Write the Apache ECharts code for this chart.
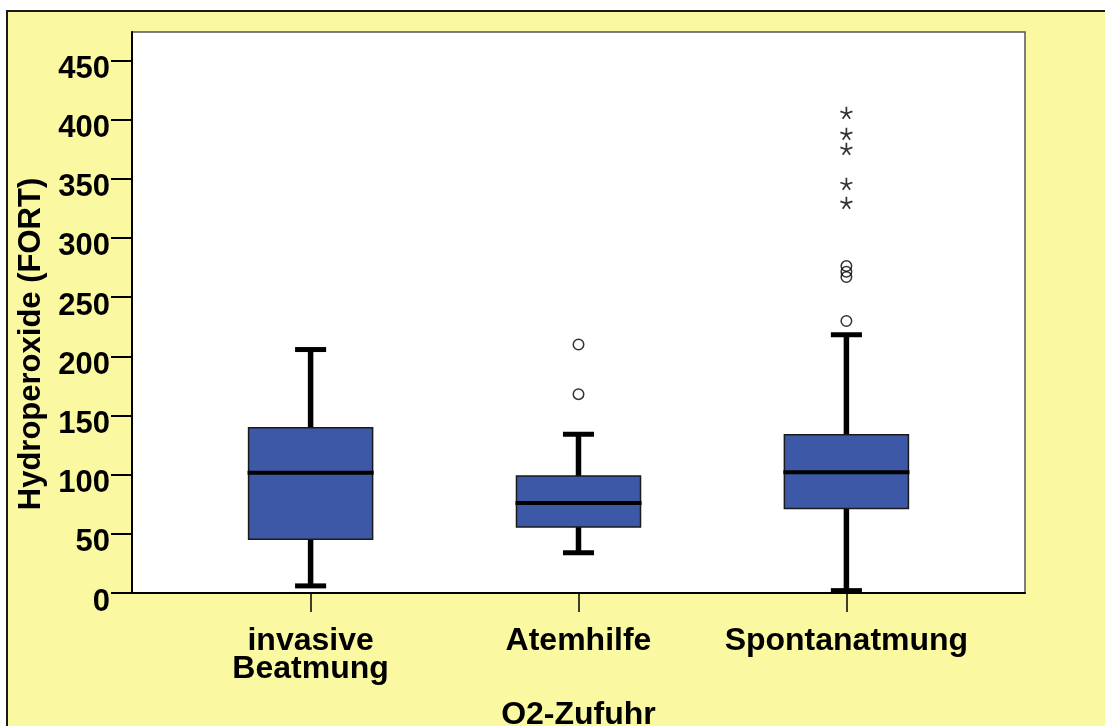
<!DOCTYPE html>
<html>
<head>
<meta charset="utf-8">
<script src="https://cdn.jsdelivr.net/npm/echarts@6/dist/echarts.min.js"></script>
<style>
html,body{margin:0;padding:0;background:#fff;}
#c{width:1105px;height:726px;}
</style>
</head>
<body>
<div id="c"></div>
<script>
// ---- data ----
const categories = ['invasive\nBeatmung', 'Atemhilfe', 'Spontanatmung'];
const categoryPos = [1, 2, 3];
const whiskerLow = [6, 34, 2];
const q1 = [45.4, 55.8, 71.5];
const median = [101.6, 76, 102];
const q3 = [139.6, 98.8, 133.7];
const whiskerHigh = [205.7, 134.1, 218.2];
// mild outliers (circles)
const outlierPos = [2, 2, 3, 3, 3, 3];
const outlierValues = [210, 168, 229.8, 267, 271.4, 276.2];
// extreme outliers (stars)
const extremePos = [3, 3, 3, 3, 3];
const extremeValues = [329.7, 345.7, 375.3, 388, 405.7];
const yTicks = [0, 50, 100, 150, 200, 250, 300, 350, 400, 450];

const FONT = '"Liberation Sans", Arial, Helvetica, sans-serif';
const BOX_HALF = 0.2315;  // half box width in x units
const CAP_HALF = 0.058;   // half whisker cap width in x units
const BOX_COLOR = '#3E58A8';

const boxData = categoryPos.map((p, i) => [p, whiskerLow[i], q1[i], median[i], q3[i], whiskerHigh[i]]);
const outlierData = outlierPos.map((p, i) => [p, outlierValues[i]]);
const extremeData = extremePos.map((p, i) => [p, extremeValues[i]]);

const starPath = 'path://M10 10L10 0M10 10L19.51 6.91M10 10L15.88 18.09M10 10L4.12 18.09M10 10L0.49 6.91';

const chart = echarts.init(document.getElementById('c'), null, {renderer: 'canvas'});

chart.setOption({
  animation: false,
  backgroundColor: '#fff',
  graphic: [
    {
      type: 'rect', z: -10, silent: true,
      shape: {x: 7, y: 11, width: 1200, height: 800},
      style: {fill: '#FAF8A0', stroke: '#1a1a1a', lineWidth: 2}
    },
    {
      type: 'text', z: 10, x: 31, y: 344, rotation: Math.PI / 2,
      style: {
        text: 'Hydroperoxide (FORT)', fontSize: 31, fontWeight: 'bold',
        fontFamily: FONT, fill: '#000', align: 'center', verticalAlign: 'middle'
      }
    }
  ],
  grid: {
    left: 132, right: 80, top: 32, bottom: 133,
    outerBoundsMode: 'none',
    containLabel: false,
    show: true, backgroundColor: '#fff', borderColor: '#555', borderWidth: 1.5
  },
  xAxis: {
    type: 'value', min: 1 / 3, max: 11 / 3,
    axisLine: {show: true, onZero: false, lineStyle: {color: '#000', width: 2}},
    axisTick: {show: true, customValues: categoryPos, length: 19, lineStyle: {color: '#000', width: 1.5}},
    axisLabel: {
      show: true, customValues: categoryPos,
      formatter: v => categories[Math.round(v) - 1] || '',
      fontSize: 32, lineHeight: 28, fontWeight: 'bold', fontFamily: FONT, color: '#000', margin: 34
    },
    splitLine: {show: false},
    name: 'O2-Zufuhr', nameLocation: 'middle', nameGap: 106,
    nameTextStyle: {fontSize: 32, fontWeight: 'bold', fontFamily: FONT, color: '#000'}
  },
  yAxis: {
    type: 'value', min: 0, max: 474,
    axisLine: {show: true, lineStyle: {color: '#000', width: 2}},
    axisTick: {show: true, customValues: yTicks, length: 21, lineStyle: {color: '#000', width: 2}},
    axisLabel: {
      show: true, customValues: yTicks,
      fontSize: 31, fontWeight: 'bold', fontFamily: FONT, color: '#000', margin: 22,
      verticalAlign: 'top', lineHeight: 18
    },
    splitLine: {show: false}
  },
  series: [
    {
      type: 'custom',
      clip: false,
      data: boxData,
      encode: {x: 0, y: [1, 2, 3, 4, 5]},
      renderItem: function (params, api) {
        const x = api.value(0);
        const lo = api.coord([x, api.value(1)]);
        const b1 = api.coord([x, api.value(2)]);
        const md = api.coord([x, api.value(3)]);
        const b3 = api.coord([x, api.value(4)]);
        const hi = api.coord([x, api.value(5)]);
        const cx = lo[0];
        const bh = api.size([BOX_HALF, 0])[0];
        const ch = api.size([CAP_HALF, 0])[0];
        const lineStyle = (w) => ({stroke: '#000', lineWidth: w, fill: null, lineCap: 'butt'});
        return {
          type: 'group',
          children: [
            {type: 'line', shape: {x1: cx, y1: b3[1], x2: cx, y2: hi[1]}, style: lineStyle(5.5)},
            {type: 'line', shape: {x1: cx, y1: b1[1], x2: cx, y2: lo[1]}, style: lineStyle(5.5)},
            {type: 'line', shape: {x1: cx - ch, y1: hi[1], x2: cx + ch, y2: hi[1]}, style: lineStyle(5)},
            {type: 'line', shape: {x1: cx - ch, y1: lo[1], x2: cx + ch, y2: lo[1]}, style: lineStyle(5)},
            {type: 'rect', shape: {x: cx - bh, y: b3[1], width: 2 * bh, height: b1[1] - b3[1]},
              style: {fill: BOX_COLOR, stroke: '#1a1a1a', lineWidth: 1.5}},
            {type: 'line', shape: {x1: cx - bh - 1, y1: md[1], x2: cx + bh + 1, y2: md[1]}, style: lineStyle(4)}
          ]
        };
      }
    },
    {
      type: 'scatter',
      data: outlierData,
      symbol: 'circle',
      symbolSize: 10.5,
      itemStyle: {color: 'rgba(0,0,0,0)', borderColor: '#000', borderWidth: 1.5}
    },
    {
      type: 'scatter',
      data: extremeData,
      symbol: starPath,
      symbolSize: 12,
      itemStyle: {color: 'rgba(0,0,0,0)', borderColor: '#000', borderWidth: 1.7}
    }
  ]
});
</script>
</body>
</html>
